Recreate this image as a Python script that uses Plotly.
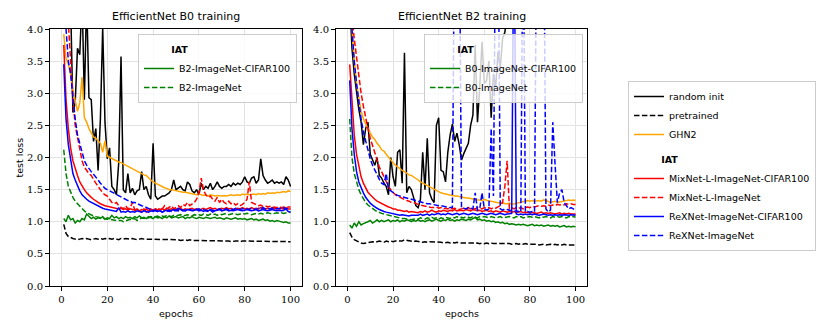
import plotly.graph_objects as go

epochs = list(range(1, 101))

# ---- EfficientNet B0 training ----
b0_random = [7.5, 5.8, 4.9, 4.4, 2.7, 2.85, 3.7, 3.6, 4.5, 2.9,
             4.5, 2.93, 2.9, 2.25, 2.45, 1.8, 2.6, 4.02, 2.55, 1.98,
             2.15, 1.55, 1.5, 1.42, 1.92, 3.57, 1.5, 1.45, 1.75, 1.45,
             1.52, 1.42, 1.48, 1.5, 1.78, 1.5, 1.55, 1.42, 1.35, 2.22,
             1.4, 1.35, 1.38, 1.4, 1.4, 1.42, 1.45, 1.5, 1.65, 1.5,
             1.52, 1.55, 1.5, 1.48, 1.62, 1.58, 1.48, 1.45, 1.5, 1.42,
             1.6, 1.5, 1.55, 1.52, 1.6, 1.5, 1.55, 1.62, 1.55, 1.52,
             1.55, 1.55, 1.58, 1.55, 1.6, 1.57, 1.6, 1.58, 1.62, 1.7,
             1.62, 1.6, 1.68, 1.7, 1.6, 1.65, 1.98, 1.72, 1.65, 1.6,
             1.62, 1.65, 1.6, 1.62, 1.6, 1.62, 1.58, 1.7, 1.65, 1.55]
b0_pretrained = [0.96, 0.82, 0.77, 0.75, 0.74, 0.73, 0.72, 0.73, 0.74, 0.73,
                 0.74, 0.73, 0.72, 0.73, 0.74, 0.73, 0.74, 0.73, 0.74, 0.73,
                 0.74, 0.73, 0.74, 0.73, 0.72, 0.74, 0.73, 0.74, 0.73, 0.73,
                 0.74, 0.73, 0.72, 0.73, 0.74, 0.73, 0.73, 0.72, 0.73, 0.73,
                 0.72, 0.72, 0.73, 0.72, 0.72, 0.72, 0.73, 0.72, 0.72, 0.72,
                 0.72, 0.71, 0.72, 0.72, 0.71, 0.72, 0.71, 0.71, 0.71, 0.70,
                 0.70, 0.70, 0.71, 0.70, 0.70, 0.70, 0.70, 0.71, 0.70, 0.70,
                 0.70, 0.70, 0.70, 0.69, 0.70, 0.70, 0.70, 0.69, 0.70, 0.70,
                 0.69, 0.70, 0.69, 0.70, 0.69, 0.70, 0.69, 0.69, 0.70, 0.69,
                 0.69, 0.69, 0.70, 0.69, 0.69, 0.69, 0.69, 0.69, 0.69, 0.69]
b0_ghn2 = [3.92, 3.55, 3.45, 3.3, 3.05, 2.9, 2.72, 2.85, 3.25, 2.62,
           2.55, 2.45, 2.38, 2.32, 2.3, 2.25, 2.22, 2.08, 2.26, 2.02,
           2.0, 1.98, 1.97, 1.95, 1.93, 1.92, 1.9, 1.88, 1.87, 1.85,
           1.83, 1.8, 1.79, 1.77, 1.75, 1.73, 1.72, 1.68, 1.65, 1.62,
           1.6, 1.58, 1.56, 1.55, 1.53, 1.52, 1.5, 1.5, 1.49, 1.48,
           1.47, 1.47, 1.46, 1.46, 1.45, 1.44, 1.44, 1.43, 1.42, 1.43,
           1.42, 1.41, 1.42, 1.4, 1.42, 1.41, 1.4, 1.41, 1.4, 1.4,
           1.41, 1.4, 1.41, 1.42, 1.41, 1.42, 1.42, 1.41, 1.43, 1.42,
           1.43, 1.42, 1.43, 1.43, 1.42, 1.44, 1.43, 1.44, 1.43, 1.45,
           1.44, 1.45, 1.44, 1.46, 1.45, 1.46, 1.47, 1.46, 1.48, 1.47]
b0_mix_cifar = [3.75, 2.9, 2.45, 2.15, 1.95, 1.82, 1.72, 1.62, 1.55, 1.5,
                1.45, 1.41, 1.38, 1.35, 1.32, 1.3, 1.28, 1.26, 1.25, 1.24,
                1.23, 1.22, 1.22, 1.21, 1.2, 1.21, 1.19, 1.2, 1.18, 1.2,
                1.19, 1.18, 1.2, 1.17, 1.19, 1.18, 1.2, 1.17, 1.19, 1.18,
                1.2, 1.18, 1.19, 1.2, 1.18, 1.21, 1.19, 1.2, 1.18, 1.2,
                1.19, 1.21, 1.18, 1.2, 1.19, 1.2, 1.21, 1.19, 1.2, 1.18,
                1.2, 1.21, 1.19, 1.2, 1.22, 1.2, 1.21, 1.19, 1.2, 1.21,
                1.2, 1.22, 1.2, 1.21, 1.19, 1.2, 1.21, 1.2, 1.22, 1.2,
                1.21, 1.2, 1.22, 1.2, 1.21, 1.2, 1.22, 1.21, 1.2, 1.21,
                1.2, 1.22, 1.2, 1.21, 1.2, 1.21, 1.2, 1.22, 1.2, 1.2]
b0_mix_imnet = [5.5, 4.6, 4.1, 3.4, 2.9, 2.5, 2.3, 2.1, 1.95, 1.85,
                1.8, 1.75, 1.72, 1.65, 1.6, 1.55, 1.5, 1.45, 1.42, 1.4,
                1.35, 1.3, 1.28, 1.3, 1.25, 1.22, 1.2, 1.25, 1.2, 1.22,
                1.3, 1.18, 1.15, 1.17, 1.15, 1.2, 1.15, 1.18, 1.2, 1.17,
                1.2, 1.18, 1.22, 1.2, 1.25, 1.2, 1.22, 1.25, 1.2, 1.23,
                1.25, 1.22, 1.27, 1.25, 1.3, 1.25, 1.28, 1.3, 1.35, 1.45,
                1.68, 1.5, 1.42, 1.38, 1.4, 1.35, 1.32, 1.38, 1.3, 1.35,
                1.3, 1.28, 1.32, 1.28, 1.3, 1.26, 1.28, 1.25, 1.27, 1.3,
                1.35, 1.62, 1.3, 1.28, 1.26, 1.25, 1.26, 1.24, 1.25, 1.23,
                1.24, 1.22, 1.23, 1.22, 1.24, 1.22, 1.23, 1.22, 1.23, 1.23]
b0_rex_cifar = [3.45, 2.6, 2.2, 1.95, 1.75, 1.65, 1.55, 1.48, 1.42, 1.38,
                1.35, 1.32, 1.3, 1.28, 1.26, 1.24, 1.22, 1.21, 1.2, 1.19,
                1.18, 1.18, 1.17, 1.16, 1.22, 1.15, 1.16, 1.15, 1.17, 1.15,
                1.16, 1.15, 1.17, 1.16, 1.15, 1.17, 1.16, 1.15, 1.17, 1.16,
                1.18, 1.16, 1.17, 1.15, 1.17, 1.18, 1.16, 1.17, 1.19, 1.17,
                1.21, 1.19, 1.18, 1.17, 1.19, 1.18, 1.17, 1.18, 1.19, 1.17,
                1.18, 1.16, 1.18, 1.17, 1.19, 1.18, 1.17, 1.18, 1.19, 1.17,
                1.18, 1.19, 1.17, 1.18, 1.17, 1.18, 1.19, 1.18, 1.17, 1.18,
                1.19, 1.18, 1.17, 1.18, 1.19, 1.17, 1.18, 1.19, 1.18, 1.17,
                1.18, 1.19, 1.18, 1.17, 1.18, 1.17, 1.18, 1.2, 1.16, 1.15]
b0_rex_imnet = [4.5, 4.0, 3.5, 3.3, 2.9, 2.6, 2.35, 2.2, 2.05, 1.95,
                1.88, 1.82, 1.78, 1.74, 1.7, 1.65, 1.6, 1.56, 1.52, 1.5,
                1.48, 1.46, 1.44, 1.42, 1.4, 1.38, 1.36, 1.35, 1.33, 1.32,
                1.3, 1.3, 1.28, 1.27, 1.25, 1.24, 1.22, 1.2, 1.19, 1.18,
                1.17, 1.16, 1.18, 1.15, 1.17, 1.16, 1.18, 1.16, 1.17, 1.18,
                1.17, 1.19, 1.17, 1.18, 1.17, 1.19, 1.18, 1.17, 1.19, 1.2,
                1.18, 1.19, 1.17, 1.16, 1.18, 1.15, 1.17, 1.18, 1.2, 1.18,
                1.19, 1.2, 1.18, 1.2, 1.19, 1.21, 1.2, 1.19, 1.2, 1.21,
                1.2, 1.19, 1.21, 1.2, 1.19, 1.21, 1.2, 1.22, 1.2, 1.21,
                1.2, 1.21, 1.22, 1.2, 1.21, 1.2, 1.22, 1.2, 1.21, 1.2]
b0_g_cifar = [1.05, 1.0, 1.1, 1.03, 1.05, 0.98, 1.02, 1.0, 1.05, 1.03,
              1.12, 1.08, 1.05, 1.07, 1.04, 1.06, 1.05, 1.08, 1.04, 1.06,
              1.05, 1.1, 1.06, 1.08, 1.05, 1.07, 1.05, 1.08, 1.06, 1.07,
              1.05, 1.08, 1.06, 1.09, 1.06, 1.07, 1.05, 1.08, 1.06, 1.05,
              1.08, 1.06, 1.07, 1.05, 1.08, 1.06, 1.09, 1.06, 1.07, 1.08,
              1.06, 1.07, 1.08, 1.05, 1.07, 1.06, 1.08, 1.06, 1.05, 1.07,
              1.06, 1.05, 1.07, 1.06, 1.05, 1.06, 1.07, 1.05, 1.06, 1.05,
              1.04, 1.06, 1.05, 1.04, 1.05, 1.06, 1.04, 1.05, 1.04, 1.05,
              1.03, 1.04, 1.05, 1.03, 1.04, 1.02, 1.03, 1.04, 1.02, 1.03,
              1.01, 1.02, 1.0, 1.02, 1.01, 1.0, 0.99, 1.0, 0.98, 0.98]
b0_g_imnet = [2.12, 1.75, 1.55, 1.45, 1.38, 1.32, 1.28, 1.24, 1.2, 1.17,
              1.14, 1.12, 1.1, 1.09, 1.08, 1.07, 1.06, 1.05, 1.05, 1.04,
              1.04, 1.03, 1.03, 1.02, 1.02, 1.02, 1.0, 1.01, 1.03, 1.04,
              1.03, 1.05, 1.02, 1.04, 1.06, 1.05, 1.07, 1.06, 1.08, 1.07,
              1.08, 1.09, 1.07, 1.09, 1.08, 1.1, 1.09, 1.08, 1.1, 1.09,
              1.1, 1.11, 1.09, 1.1, 1.11, 1.1, 1.09, 1.11, 1.1, 1.11,
              1.1, 1.12, 1.11, 1.1, 1.12, 1.11, 1.12, 1.1, 1.12, 1.11,
              1.12, 1.13, 1.11, 1.12, 1.13, 1.12, 1.11, 1.12, 1.13, 1.12,
              1.13, 1.12, 1.11, 1.12, 1.13, 1.12, 1.13, 1.12, 1.13, 1.14,
              1.13, 1.12, 1.13, 1.14, 1.13, 1.14, 1.13, 1.14, 1.15, 1.15]

# ---- EfficientNet B2 training ----
b2_random = [4.5, 3.7, 3.3, 3.0, 2.75, 2.55, 2.2, 2.45, 2.55, 2.05,
             1.95, 1.88, 2.0, 1.72, 1.68, 1.6, 1.55, 1.42, 2.0, 1.7,
             1.55, 2.08, 2.12, 1.6, 3.63, 1.45, 1.55, 1.5, 1.38, 1.25,
             1.22, 1.35, 2.08, 1.5, 2.3, 1.45, 1.35, 1.3, 2.5, 2.62,
             1.8, 1.78, 1.62, 2.08, 2.35, 2.52, 2.25, 2.38, 2.2, 1.96,
             2.06, 2.15, 2.22, 2.5, 2.66, 3.75, 2.55, 3.1, 3.8, 3.15,
             3.2, 3.5, 2.62, 3.3, 3.1, 3.65, 3.4, 3.85, 3.95, 4.2,
             6.0, 6.0, 6.0, 6.0, 6.0, 6.0, 6.0, 6.0, 6.0, 6.0,
             6.0, 6.0, 6.0, 6.0, 6.0, 6.0, 6.0, 6.0, 6.0, 6.0,
             6.0, 6.0, 6.0, 6.0, 6.0, 6.0, 6.0, 6.0, 6.0, 6.0]
b2_pretrained = [0.83, 0.76, 0.72, 0.7, 0.68, 0.67, 0.66, 0.67, 0.68, 0.68,
                 0.69, 0.68, 0.69, 0.7, 0.69, 0.68, 0.7, 0.69, 0.7, 0.69,
                 0.7, 0.7, 0.71, 0.7, 0.72, 0.71, 0.7, 0.7, 0.69, 0.7,
                 0.69, 0.69, 0.68, 0.69, 0.68, 0.69, 0.69, 0.68, 0.68, 0.68,
                 0.68, 0.67, 0.68, 0.68, 0.67, 0.68, 0.67, 0.68, 0.67, 0.67,
                 0.68, 0.67, 0.67, 0.68, 0.67, 0.66, 0.67, 0.66, 0.67, 0.66,
                 0.67, 0.66, 0.67, 0.66, 0.66, 0.67, 0.66, 0.66, 0.67, 0.66,
                 0.66, 0.65, 0.66, 0.66, 0.65, 0.66, 0.65, 0.66, 0.65, 0.65,
                 0.66, 0.65, 0.65, 0.64, 0.65, 0.65, 0.64, 0.65, 0.65, 0.64,
                 0.65, 0.64, 0.65, 0.64, 0.65, 0.64, 0.64, 0.65, 0.64, 0.64]
b2_ghn2 = [4.5, 3.95, 3.5, 3.15, 2.9, 2.72, 2.6, 2.52, 2.45, 2.38,
           2.32, 2.28, 2.22, 2.18, 2.12, 2.1, 2.05, 2.0, 1.97, 1.92,
           1.88, 1.85, 1.83, 1.8, 1.78, 1.75, 1.73, 1.72, 1.7, 1.68,
           1.65, 1.62, 1.6, 1.58, 1.56, 1.55, 1.52, 1.5, 1.48, 1.46,
           1.45, 1.44, 1.43, 1.42, 1.42, 1.41, 1.4, 1.4, 1.39, 1.38,
           1.38, 1.37, 1.37, 1.36, 1.35, 1.35, 1.34, 1.34, 1.33, 1.35,
           1.33, 1.32, 1.32, 1.31, 1.3, 1.3, 1.29, 1.3, 1.28, 1.28,
           1.29, 1.27, 1.28, 1.28, 1.3, 1.3, 1.31, 1.32, 1.33, 1.32,
           1.33, 1.32, 1.33, 1.33, 1.32, 1.34, 1.33, 1.32, 1.3, 1.31,
           1.32, 1.3, 1.31, 1.32, 1.32, 1.33, 1.34, 1.33, 1.34, 1.33]
b2_mix_cifar = [3.45, 2.8, 2.35, 2.05, 1.85, 1.7, 1.6, 1.52, 1.46, 1.42,
                1.38, 1.35, 1.32, 1.3, 1.28, 1.26, 1.25, 1.23, 1.22, 1.2,
                1.2, 1.18, 1.18, 1.17, 1.16, 1.17, 1.15, 1.16, 1.15, 1.15,
                1.14, 1.16, 1.15, 1.17, 1.15, 1.16, 1.18, 1.16, 1.15, 1.17,
                1.16, 1.18, 1.17, 1.16, 1.18, 1.17, 1.19, 1.17, 1.18, 1.18,
                1.17, 1.19, 1.18, 1.17, 1.19, 1.18, 1.17, 1.18, 1.16, 1.17,
                1.18, 1.16, 1.17, 1.15, 1.17, 1.16, 1.15, 1.17, 1.16, 1.15,
                1.16, 1.15, 1.16, 1.14, 1.15, 1.16, 1.14, 1.15, 1.14, 1.14,
                1.15, 1.14, 1.13, 1.14, 1.15, 1.13, 1.14, 1.13, 1.14, 1.13,
                1.12, 1.13, 1.14, 1.12, 1.13, 1.12, 1.13, 1.12, 1.12, 1.12]
b2_mix_imnet = [4.8, 4.2, 3.85, 3.55, 3.25, 3.0, 2.8, 2.6, 2.45, 2.3,
                2.18, 2.05, 1.95, 1.85, 1.78, 1.7, 1.62, 1.55, 1.5, 1.45,
                1.42, 1.4, 1.38, 1.36, 1.35, 1.33, 1.32, 1.3, 1.3, 1.28,
                1.27, 1.26, 1.25, 1.25, 1.24, 1.23, 1.22, 1.22, 1.23, 1.21,
                1.22, 1.2, 1.21, 1.2, 1.22, 1.2, 1.21, 1.2, 1.19, 1.2,
                1.21, 1.2, 1.22, 1.2, 1.21, 1.2, 1.22, 1.21, 1.2, 1.22,
                1.21, 1.22, 1.2, 1.22, 1.21, 1.23, 1.25, 1.3, 1.55, 1.95,
                1.2, 1.22, 1.2, 1.22, 1.21, 1.22, 1.2, 1.22, 1.23, 1.22,
                1.24, 1.23, 1.24, 1.25, 1.24, 1.25, 1.24, 1.26, 1.25, 1.26,
                1.25, 1.27, 1.26, 1.27, 1.26, 1.28, 1.27, 1.28, 1.27, 1.27]
b2_rex_cifar = [3.2, 2.45, 2.05, 1.78, 1.62, 1.52, 1.45, 1.38, 1.33, 1.29,
                1.26, 1.23, 1.21, 1.19, 1.17, 1.16, 1.15, 1.14, 1.13, 1.12,
                1.12, 1.11, 1.1, 1.11, 1.1, 1.1, 1.09, 1.1, 1.1, 1.09,
                1.1, 1.12, 1.1, 1.11, 1.12, 1.1, 1.12, 1.11, 1.12, 1.13,
                1.11, 1.12, 1.11, 1.13, 1.12, 1.11, 1.12, 1.13, 1.11, 1.12,
                1.13, 1.12, 1.11, 1.12, 1.13, 1.12, 1.11, 1.12, 1.13, 1.12,
                1.11, 1.12, 1.13, 1.12, 1.11, 1.12, 1.13, 1.12, 1.11, 1.12,
                1.12, 1.13, 6.0, 1.12, 1.11, 1.12, 1.11, 1.12, 1.11, 1.12,
                1.11, 1.12, 1.11, 1.1, 1.11, 1.12, 1.11, 1.1, 1.11, 1.1,
                1.11, 1.1, 1.11, 1.1, 1.11, 1.1, 1.1, 1.11, 1.1, 1.1]
b2_rex_imnet = [4.5, 3.95, 3.5, 3.15, 2.85, 2.6, 2.4, 2.25, 2.1, 1.98,
                1.88, 1.8, 1.72, 1.66, 1.6, 1.58, 1.75, 1.5, 1.48, 1.45,
                1.43, 1.41, 1.4, 1.38, 1.37, 1.36, 1.35, 1.34, 1.33, 1.32,
                1.31, 1.3, 1.3, 1.29, 1.28, 1.28, 1.27, 1.26, 1.26, 1.25,
                1.25, 1.24, 1.24, 1.23, 1.22, 1.22, 6.0, 6.0, 6.0, 1.22,
                1.21, 1.2, 1.22, 1.21, 1.2, 1.45, 1.18, 1.2, 1.45, 1.2,
                1.18, 1.2, 2.45, 1.4, 6.0, 6.0, 1.2, 1.18, 1.2, 1.19,
                1.18, 1.17, 1.16, 1.17, 1.16, 1.15, 6.0, 1.15, 1.16, 1.15,
                1.16, 1.15, 6.0, 6.0, 6.0, 6.0, 1.2, 1.15, 1.18, 2.55,
                1.9, 1.3, 1.45, 1.5, 1.3, 1.25, 1.2, 1.22, 1.2, 1.18]
b2_g_cifar = [0.95, 0.9, 0.98, 0.93, 1.0, 0.95, 0.97, 0.98, 1.0, 1.02,
              0.98, 1.0, 1.03, 1.0, 1.02, 1.0, 1.01, 1.03, 1.0, 1.02,
              1.01, 1.03, 1.0, 1.02, 1.01, 1.03, 1.02, 1.0, 1.02, 1.01,
              1.03, 1.01, 1.02, 1.0, 1.02, 1.03, 1.01, 1.02, 1.04, 1.02,
              1.01, 1.03, 1.02, 1.04, 1.02, 1.03, 1.01, 1.03, 1.02, 1.04,
              1.03, 1.02, 1.04, 1.03, 1.05, 1.07, 1.03, 1.04, 1.02, 1.03,
              1.01, 1.02, 1.0, 1.01, 0.99, 1.0, 0.98, 0.99, 0.97, 0.98,
              0.96, 0.97, 0.96, 0.95, 0.96, 0.95, 0.96, 0.95, 0.94, 0.95,
              0.96, 0.94, 0.95, 0.94, 0.95, 0.93, 0.94, 0.95, 0.93, 0.94,
              0.93, 0.94, 0.92, 0.93, 0.94, 0.92, 0.93, 0.92, 0.93, 0.92]
b2_g_imnet = [2.6, 2.0, 1.75, 1.6, 1.5, 1.42, 1.35, 1.3, 1.26, 1.23,
              1.2, 1.18, 1.16, 1.14, 1.13, 1.12, 1.11, 1.1, 1.09, 1.08,
              1.07, 1.06, 1.06, 1.05, 1.05, 1.04, 1.04, 1.03, 1.04, 1.05,
              1.04, 1.06, 1.05, 1.04, 1.06, 1.05, 1.07, 1.05, 1.06, 1.04,
              1.06, 1.05, 1.07, 1.06, 1.05, 1.07, 1.06, 1.08, 1.06, 1.07,
              1.06, 1.08, 1.07, 1.06, 1.08, 1.07, 1.06, 1.08, 1.07, 1.08,
              1.07, 1.06, 1.08, 1.07, 1.06, 1.07, 1.08, 1.06, 1.07, 1.07,
              1.08, 1.07, 1.06, 1.08, 1.07, 1.08, 1.06, 1.07, 1.08, 1.08,
              1.07, 1.08, 1.07, 1.06, 1.08, 1.07, 1.08, 1.07, 1.06, 1.08,
              1.07, 1.08, 1.07, 1.08, 1.07, 1.06, 1.08, 1.07, 1.08, 1.07]

shared_names = ["random init", "pretrained", "GHN2",
                "MixNet-L-ImageNet-CIFAR100", "MixNet-L-ImageNet",
                "ReXNet-ImageNet-CIFAR100", "ReXNet-ImageNet"]
shared_colors = ["black", "black", "orange", "red", "red", "blue", "blue"]
shared_dash = ["solid", "dash", "solid", "solid", "dash", "solid", "dash"]
left_green_names = ["B2-ImageNet-CIFAR100", "B2-ImageNet"]
right_green_names = ["B0-ImageNet-CIFAR100", "B0-ImageNet"]

left_series = [b0_random, b0_pretrained, b0_ghn2, b0_mix_cifar, b0_mix_imnet,
               b0_rex_cifar, b0_rex_imnet]
right_series = [b2_random, b2_pretrained, b2_ghn2, b2_mix_cifar, b2_mix_imnet,
                b2_rex_cifar, b2_rex_imnet]

DASH = "5.5px,2.4px"
W = 1.5
# header text sits over the label column, like matplotlib's empty-handle entry
IAT = "\u00a0" * 9 + "<b>IAT</b>"

# plot area in pixels: x 50..587, y 29..286
L, R, T, B = 50, 587, 29, 286
PW, PH = R - L, B - T


def px(xp):
    return (xp - L) / PW


def py(yp):
    return (B - yp) / PH


def dash_of(d):
    return DASH if d == "dash" else "solid"


fig = go.Figure()

for side in ["L", "R"]:
    series = left_series if side == "L" else right_series
    xa, ya = ("x", "y") if side == "L" else ("x2", "y2")
    green = (b0_g_cifar, b0_g_imnet) if side == "L" else (b2_g_cifar, b2_g_imnet)
    gnames = left_green_names if side == "L" else right_green_names
    glegend = "legend2" if side == "L" else "legend3"
    for i, (vals, d) in enumerate(zip(green, ["solid", "dash"])):
        fig.add_trace(go.Scatter(x=epochs, y=vals, mode="lines", name=gnames[i],
                                 line=dict(color="green", width=W, dash=dash_of(d)),
                                 xaxis=xa, yaxis=ya, legend=glegend,
                                 legendgroup="g" + side,
                                 legendgrouptitle=dict(text=IAT),
                                 legendrank=10 + i))
    for i, vals in enumerate(series):
        grp = "a" if i < 3 else "b"
        fig.add_trace(go.Scatter(x=epochs, y=vals, mode="lines", name=shared_names[i],
                                 line=dict(color=shared_colors[i], width=W,
                                           dash=dash_of(shared_dash[i])),
                                 xaxis=xa, yaxis=ya, legend="legend",
                                 legendgroup=grp,
                                 legendgrouptitle=(dict(text=IAT) if grp == "b" else None),
                                 showlegend=(side == "L"),
                                 legendrank=i))

sans = "DejaVu Sans"
serif = "DejaVu Serif"
axis_common = dict(showline=True, linecolor="black", linewidth=1, mirror=True,
                   ticks="outside", ticklen=4, tickcolor="black", automargin=False,
                   showgrid=True, gridcolor="#e3e3e3", gridwidth=1,
                   zeroline=False, tickfont=dict(family=serif, size=10, color="black"))

xdom1 = [0, px(302)]
xdom2 = [px(336), 1]
xticks = [0, 20, 40, 60, 80, 100]
yticks = [0, 0.5, 1, 1.5, 2, 2.5, 3, 3.5, 4]

leg_common = dict(bgcolor="rgba(255,255,255,0.8)", bordercolor="#cccccc", borderwidth=1,
                  font=dict(family=sans, size=9.5, color="black"),
                  grouptitlefont=dict(family=sans, size=9.5, color="black"),
                  itemwidth=30, traceorder="grouped", xanchor="left", yanchor="top")

title_font = dict(family=sans, size=11, color="black")
label_font = dict(family=sans, size=9.5, color="black")


def note(text, x, y, font, angle=0):
    return dict(text=text, x=x, y=y, xref="paper", yref="paper", showarrow=False,
                xanchor="center", yanchor="middle", textangle=angle, font=font)


fig.update_layout(
    width=830, height=332,
    margin=dict(l=L, r=830 - R, t=T, b=332 - B, autoexpand=False),
    paper_bgcolor="white", plot_bgcolor="white",
    xaxis=dict(domain=xdom1, range=[-5, 105], tickvals=xticks, anchor="y", **axis_common),
    yaxis=dict(domain=[0, 1], range=[0, 4], tickvals=yticks, tickformat=".1f", anchor="x",
               **axis_common),
    xaxis2=dict(domain=xdom2, range=[-5, 105], tickvals=xticks, anchor="y2", **axis_common),
    yaxis2=dict(domain=[0, 1], range=[0, 4], tickvals=yticks, tickformat=".1f", anchor="x2",
                **axis_common),
    legend=dict(x=px(628), y=py(81), tracegroupgap=6, **leg_common),
    legend2=dict(x=px(138), y=py(34), tracegroupgap=0, **leg_common),
    legend3=dict(x=px(424), y=py(34), tracegroupgap=0, **leg_common),
    showlegend=True,
    annotations=[
        note("EfficientNet B0 training", sum(xdom1) / 2, py(17), title_font),
        note("EfficientNet B2 training", sum(xdom2) / 2, py(17), title_font),
        note("epochs", sum(xdom1) / 2, py(313), label_font),
        note("epochs", sum(xdom2) / 2, py(313), label_font),
        note("test loss", px(19), 0.5, label_font, -90),
    ],
)

fig.write_html("out.html", config={"displayModeBar": False},
               post_script="document.body.style.margin='0';")
